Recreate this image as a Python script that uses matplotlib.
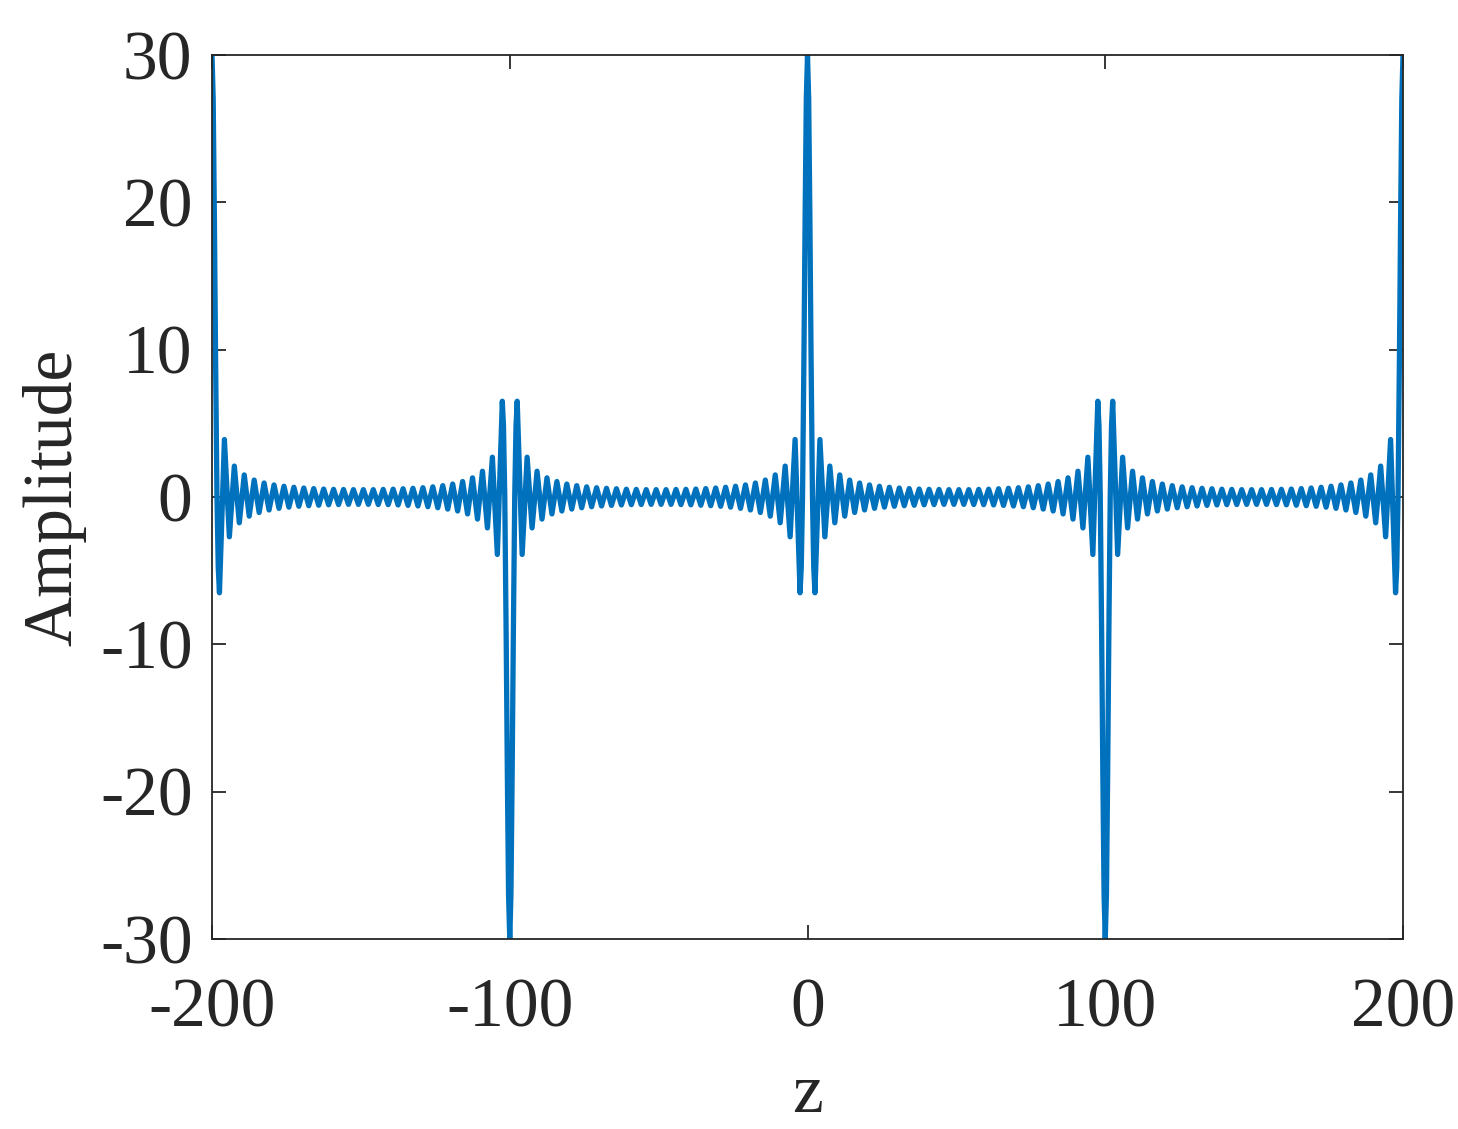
import matplotlib.pyplot as plt
import numpy as np

# main peaks (clipped at the axis limits in the picture)
peak_z = [-200, -100, 0, 100, 200]
peak_val = [30, -30, 30, -30, 30]

# shape of the main lobe on either side of a peak (offset in z, value for a +30 peak)
lobe_off = [0.4, 0.8, 1.2, 1.67, 2.1]
lobe_val = [27, 19, 9.5, 0, -4.8]

# ripple extrema magnitudes moving away from a peak
ripple_step = 5 / 3
ripple_amp = [6.5, 3.9, 2.7, 2.1, 1.75, 1.5, 1.3, 1.15, 1.05, 0.95,
              0.88, 0.82, 0.77, 0.73, 0.69, 0.66, 0.63, 0.61, 0.59, 0.57,
              0.56, 0.54, 0.53, 0.52, 0.515, 0.51, 0.5, 0.5, 0.5]

xticks = [-200, -100, 0, 100, 200]
yticks = [-30, -20, -10, 0, 10, 20, 30]

pts = []
for p, v in zip(peak_z, peak_val):
    s = np.sign(v)
    pts.append((p, v))
    for o, lv in zip(lobe_off, lobe_val):
        for side in (-1, 1):
            z = p + side * o
            if -200 <= z <= 200:
                pts.append((z, s * lv))
n = len(ripple_amp)
for p, v in zip(peak_z[:-1], peak_val[:-1]):
    s = np.sign(v)
    for k in range(1, 2 * n + 1):
        amp = ripple_amp[min(k, 2 * n + 1 - k) - 1]
        pts.append((p + (k + 0.5) * ripple_step, s * (-1) ** k * amp))
pts.sort()
z = np.array([q[0] for q in pts])
amp = np.array([q[1] for q in pts])

plt.rcParams['font.family'] = ['Liberation Serif', 'DejaVu Serif']
plt.rcParams['axes.unicode_minus'] = False
dark = '#262626'

fig = plt.figure(figsize=(14.58, 11.29), dpi=100)
ax = fig.add_axes([212 / 1458, 1 - 939 / 1129, (1403 - 212) / 1458, (939 - 55) / 1129])
ax.plot(z, amp, color='#0072BD', lw=3.8, solid_joinstyle='round')
ax.set_xlim(-200, 200)
ax.set_ylim(-30, 30)
ax.set_xticks(xticks)
ax.set_yticks(yticks)
ax.tick_params(direction='in', top=True, right=True, length=10, width=1.3,
               colors=dark, labelsize=50)
ax.tick_params(axis='x', pad=28)
ax.tick_params(axis='y', pad=14)
for sp in ax.spines.values():
    sp.set_color(dark)
    sp.set_linewidth(1.3)
ax.set_xlabel('z', fontsize=50, color=dark, labelpad=16)
ax.set_ylabel('Amplitude', fontsize=50, color=dark, labelpad=10)

fig.savefig('out.png', dpi=100)
